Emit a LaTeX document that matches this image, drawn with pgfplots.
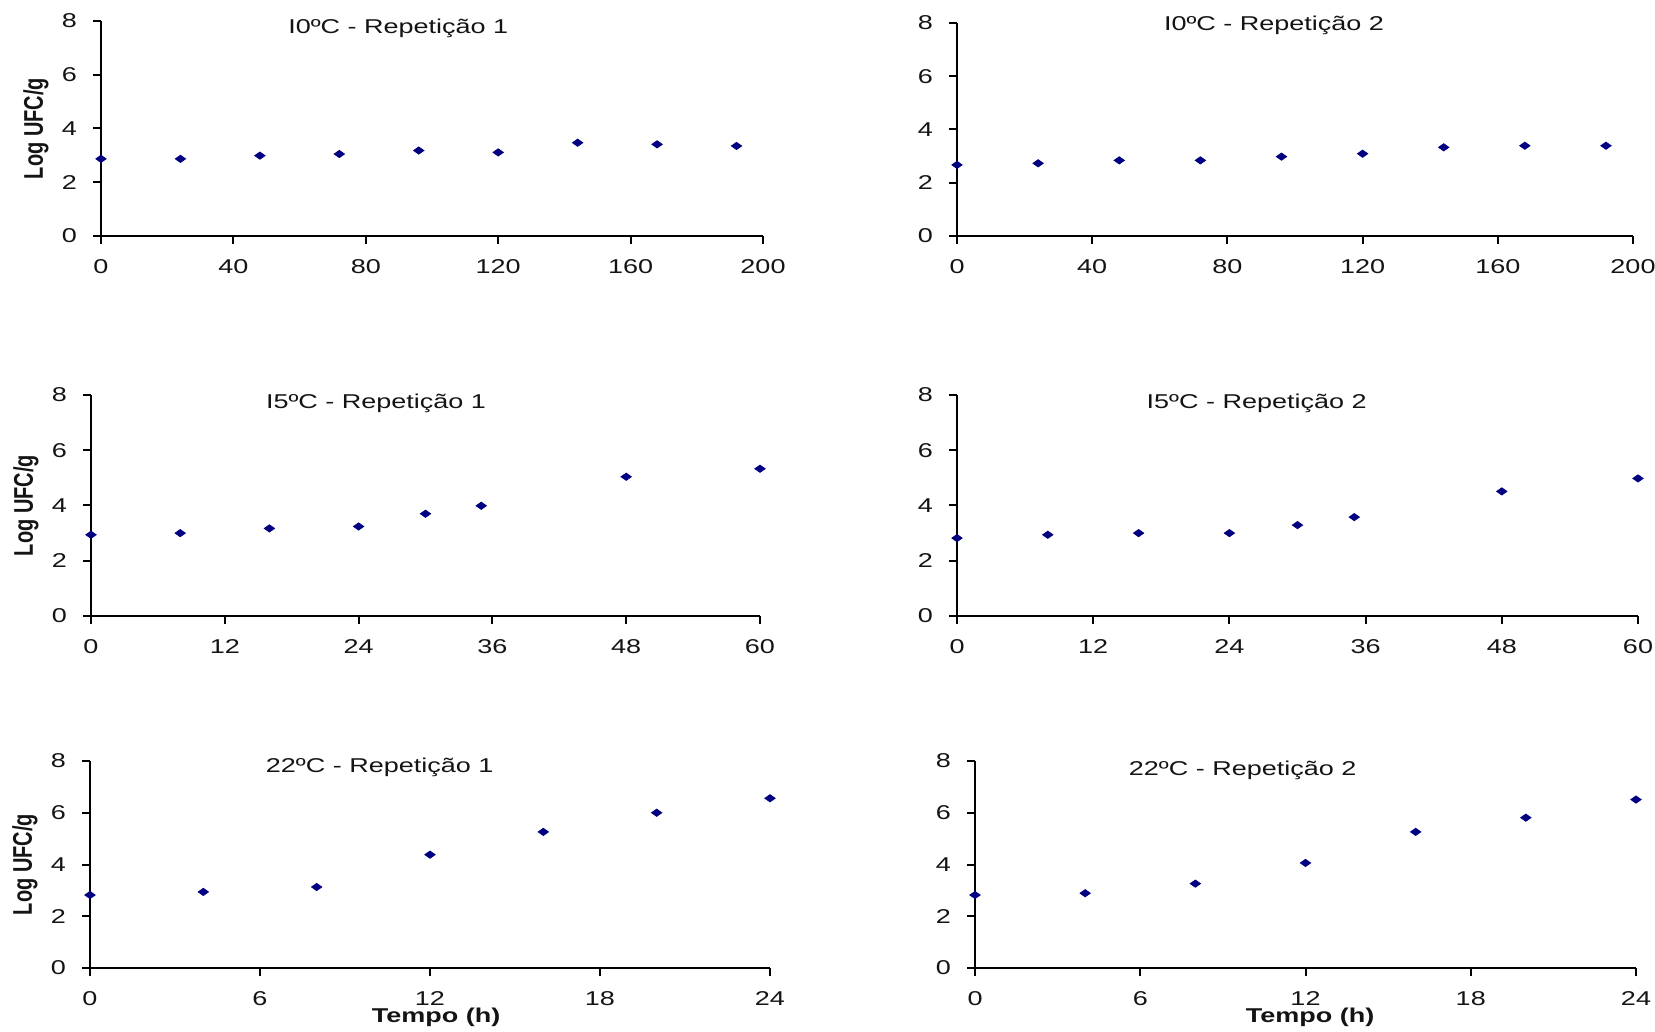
\documentclass[border=0pt]{standalone}
\usepackage{fontspec}
\setmainfont{Liberation Sans}[FakeStretch=1.35]
\newfontfamily\plainsans{Liberation Sans}
\usepackage{pgfplots}
\pgfplotsset{compat=1.18}
\definecolor{navy}{RGB}{0,0,128}
\definecolor{txt}{RGB}{20,20,20}

\pgfplotsset{
  panel/.style={
    scale only axis, anchor=south west, clip=false,
    axis x line=bottom, axis y line=left,
    axis line style={-, black, line width=1pt},
    tick align=outside, major tick length=4pt,
    every tick/.style={black, line width=1pt},
    ymin=0, ymax=8, ytick={0,2,...,8},
    /pgf/number format/assume math mode=true,
    tick label style={font=\fontsize{10}{12}\selectfont, text=txt},
    yticklabel style={xshift=-4.5pt},
    xticklabel style={yshift=-4.2pt},
  },
  pts/.style={only marks, mark=diamond*, mark size=1.8pt,
    mark options={xscale=1.9, fill=navy, draw=navy}, color=navy},
}
\newcommand{\ptitle}[3]{\node[font=\fontsize{10}{12}\selectfont, text=txt] at (axis description cs:#1,#2) {#3};}
\newcommand{\ylab}{\node[rotate=90, text=txt] at ([xshift=-32.5pt]axis description cs:0,0.5)
  {\scalebox{1}[1.35]{\plainsans\fontsize{10}{12}\selectfont\bfseries Log UFC/g}};}
\newcommand{\xlab}[1]{\node[text=txt, inner sep=1pt] at ([yshift=-24.5pt]axis description cs:#1,0)
  {\fontsize{10}{12}\selectfont\bfseries Tempo (h)};}

\begin{document}
\begin{tikzpicture}
\useasboundingbox (0,0) rectangle (827.5pt,516pt);

% 10 C - repeticao 1
\begin{axis}[panel, at={(50.5pt,398pt)}, width=331pt, height=107.5pt,
  xmin=0, xmax=200, xtick={0,40,...,200}]
  \addplot[pts] coordinates {(0,2.87) (24,2.87) (48,2.99) (72,3.05) (96,3.18) (120,3.11) (144,3.47) (168,3.41) (192,3.35)};
  \ptitle{0.449}{0.967}{I0ºC - Repetição 1}
  \ylab
\end{axis}

% 10 C - repeticao 2
\begin{axis}[panel, at={(478.5pt,398pt)}, width=338pt, height=106.5pt,
  xmin=0, xmax=200, xtick={0,40,...,200}]
  \addplot[pts] coordinates {(0,2.67) (24,2.73) (48,2.84) (72,2.84) (96,2.98) (120,3.09) (144,3.33) (168,3.39) (192,3.39)};
  \ptitle{0.469}{0.99}{I0ºC - Repetição 2}
\end{axis}

% 15 C - repeticao 1
\begin{axis}[panel, at={(45.5pt,208pt)}, width=334.5pt, height=110.5pt,
  xmin=0, xmax=60, xtick={0,12,...,60}]
  \addplot[pts] coordinates {(0,2.94) (8,3.0) (16,3.17) (24,3.24) (30,3.70) (35,3.99) (48,5.04) (60,5.33)};
  \ptitle{0.426}{0.964}{I5ºC - Repetição 1}
  \ylab
\end{axis}

% 15 C - repeticao 2
\begin{axis}[panel, at={(478.5pt,208pt)}, width=340.5pt, height=110.5pt,
  xmin=0, xmax=60, xtick={0,12,...,60}]
  \addplot[pts] coordinates {(0,2.82) (8,2.94) (16,3.0) (24,3.0) (30,3.29) (35,3.58) (48,4.51) (60,4.98)};
  \ptitle{0.44}{0.964}{I5ºC - Repetição 2}
\end{axis}

% 22 C - repeticao 1
\begin{axis}[panel, at={(45pt,32pt)}, width=340pt, height=103.5pt,
  xmin=0, xmax=24, xtick={0,6,...,24}]
  \addplot[pts] coordinates {(0,2.82) (4,2.94) (8,3.13) (12,4.38) (16,5.26) (20,6.0) (24,6.56)};
  \ptitle{0.426}{0.971}{22ºC - Repetição 1}
  \ylab
  \xlab{0.509}
\end{axis}

% 22 C - repeticao 2
\begin{axis}[panel, at={(487.5pt,32pt)}, width=330.5pt, height=103.5pt,
  xmin=0, xmax=24, xtick={0,6,...,24}]
  \addplot[pts] coordinates {(0,2.82) (4,2.89) (8,3.26) (12,4.06) (16,5.26) (20,5.81) (24,6.51)};
  \ptitle{0.405}{0.957}{22ºC - Repetição 2}
  \xlab{0.507}
\end{axis}
\end{tikzpicture}
\end{document}
